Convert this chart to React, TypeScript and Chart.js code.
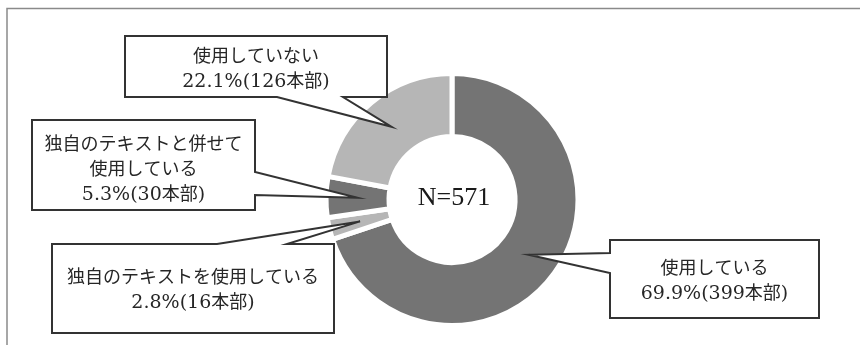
import React, { useEffect, useRef } from "react";
import { Chart, registerables } from "chart.js";

Chart.register(...registerables);

// ---- data ----
const categories = ["使用している", "独自のテキストを使用している", "独自のテキストと併せて使用している", "使用していない"];
const counts = [399, 16, 30, 126];
const percents = ["69.9", "2.8", "5.3", "22.1"];
const labelLines = [["使用している"], ["独自のテキストを使用している"], ["独自のテキストと併せて", "使用している"], ["使用していない"]];
const totalLabel = "N=571";
const sliceColors = ["#747474", "#b6b6b6", "#747474", "#b6b6b6"];

// ---- callout layout (box rect + wedge on an edge) ----
type Callout = { x: number; y: number; w: number; h: number; edge: "top" | "bottom" | "left" | "right"; a: number; b: number; dy: number };
const callouts: Callout[] = [
  { x: 610, y: 240, w: 209, h: 78, edge: "left", a: 253, b: 273, dy: 1 },
  { x: 52, y: 244, w: 282, h: 89, edge: "top", a: 217, b: 287, dy: 0.5 },
  { x: 32, y: 120, w: 223, h: 90, edge: "right", a: 172, b: 195, dy: 3 },
  { x: 125, y: 36, w: 262, h: 61, edge: "bottom", a: 277, b: 343, dy: 1 },
];

const LATIN_FONT = '19px "DejaVu Serif", serif';
const CJK_FONT = '18px "Noto Sans CJK JP", sans-serif';
const isCJK = (ch: string) => /[\u3000-\u9fff\uff00-\uffef]/.test(ch);

function splitRuns(s: string) {
  const runs: { t: string; cjk: boolean }[] = [];
  for (const ch of s) {
    const c = isCJK(ch);
    if (runs.length && runs[runs.length - 1].cjk === c) runs[runs.length - 1].t += ch;
    else runs.push({ t: ch, cjk: c });
  }
  return runs;
}

function drawMixed(ctx: CanvasRenderingContext2D, s: string, cx: number, cy: number) {
  const runs = splitRuns(s);
  let total = 0;
  const widths = runs.map((r) => {
    ctx.font = r.cjk ? CJK_FONT : LATIN_FONT;
    const w = ctx.measureText(r.t).width;
    total += w;
    return w;
  });
  let x = cx - total / 2;
  ctx.textAlign = "left";
  ctx.textBaseline = "alphabetic";
  runs.forEach((r, i) => {
    ctx.font = r.cjk ? CJK_FONT : LATIN_FONT;
    ctx.fillText(r.t, x, cy + 6.5);
    x += widths[i];
  });
}

const calloutPlugin = {
  id: "callouts",
  afterDraw(chart: any) {
    const ctx = chart.ctx as CanvasRenderingContext2D;
    const meta = chart.getDatasetMeta(0);
    ctx.save();
    // outer frame
    ctx.strokeStyle = "#8a8a8a";
    ctx.lineWidth = 1.5;
    ctx.strokeRect(7, 8.5, 900, 400);

    // center text
    ctx.fillStyle = "#1a1a1a";
    ctx.font = '26px "Liberation Serif", serif';
    ctx.textAlign = "center";
    ctx.textBaseline = "middle";
    const c = meta.data[0];
    ctx.fillText(totalLabel, c.x + 2, c.y - 1);

    callouts.forEach((co, i) => {
      const tip = meta.data[i].tooltipPosition();
      const { x, y, w, h, edge, a, b } = co;
      const r = x + w, bt = y + h;
      ctx.beginPath();
      ctx.moveTo(x, y);
      if (edge === "top") { ctx.lineTo(a, y); ctx.lineTo(tip.x, tip.y); ctx.lineTo(b, y); }
      ctx.lineTo(r, y);
      if (edge === "right") { ctx.lineTo(r, a); ctx.lineTo(tip.x, tip.y); ctx.lineTo(r, b); }
      ctx.lineTo(r, bt);
      if (edge === "bottom") { ctx.lineTo(b, bt); ctx.lineTo(tip.x, tip.y); ctx.lineTo(a, bt); }
      ctx.lineTo(x, bt);
      if (edge === "left") { ctx.lineTo(x, b); ctx.lineTo(tip.x, tip.y); ctx.lineTo(x, a); }
      ctx.closePath();
      ctx.fillStyle = "#ffffff";
      ctx.fill();
      ctx.strokeStyle = "#333333";
      ctx.lineWidth = 2;
      ctx.lineJoin = "miter";
      ctx.stroke();

      const lines = [...labelLines[i], `${percents[i]}%(${counts[i]}本部)`];
      ctx.fillStyle = "#262626";
      const cx = x + w / 2;
      const cy = y + h / 2 + co.dy;
      lines.forEach((ln, j) => {
        drawMixed(ctx, ln, cx, cy + (j - (lines.length - 1) / 2) * 25);
      });
    });
    ctx.restore();
  },
};

export default function App() {
  const ref = useRef<HTMLCanvasElement>(null);
  useEffect(() => {
    if (!ref.current) return;
    const chart = new Chart(ref.current, {
      type: "doughnut",
      data: {
        labels: categories,
        datasets: [
          {
            data: counts,
            backgroundColor: sliceColors,
            borderColor: "#ffffff",
            borderWidth: 5,
          },
        ],
      },
      options: {
        responsive: false,
        animation: false,
        events: [],
        cutout: "50%",
        layout: { padding: { left: 323.5, right: 279.5, top: 71, bottom: 17 } },
        plugins: { legend: { display: false }, tooltip: { enabled: false } },
      },
      plugins: [calloutPlugin],
    });
    return () => chart.destroy();
  }, []);
  return (
    <div style={{ position: "absolute", left: 0, top: 0, width: 860, height: 345, background: "#fff" }}>
      <canvas ref={ref} width={860} height={345} />
    </div>
  );
}
